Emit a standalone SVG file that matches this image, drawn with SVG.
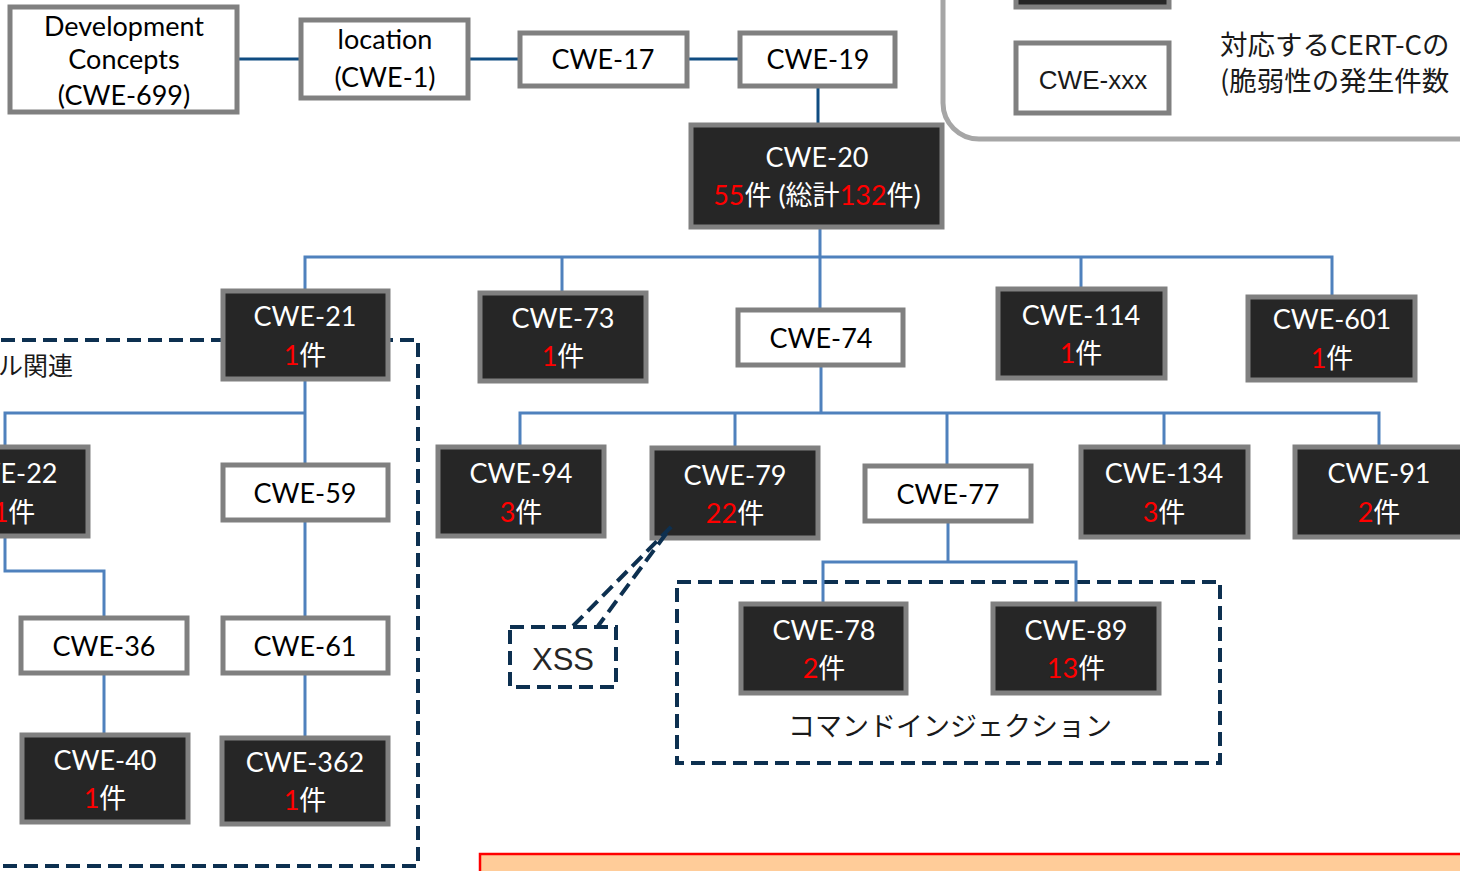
<svg xmlns="http://www.w3.org/2000/svg" width="1460" height="871" viewBox="0 0 1460 871">
<style>
.w{fill:#ffffff;stroke:#808080;stroke-width:5}
.d{fill:#262626;stroke:#808080;stroke-width:5}
.tb{font-family:Lato,"Noto Sans CJK JP",sans-serif;font-size:27px;fill:#000;text-anchor:middle}
.tw{font-family:Lato,"Noto Sans CJK JP",sans-serif;font-size:27px;fill:#fff;text-anchor:middle}
.r{fill:#ff0000}
.dash{fill:none;stroke:#0d3050;stroke-width:4;stroke-dasharray:14 7}
.c1{fill:none;stroke:#0f4c81;stroke-width:3}
.c2{fill:none;stroke:#4f81bd;stroke-width:3}
</style>
<rect width="1460" height="871" fill="#ffffff"/>
<g id="legend">
<rect x="943" y="-60" width="620" height="199" rx="36" fill="#ffffff" stroke="#a6a6a6" stroke-width="5"/>
<rect class="d" x="1016" y="-30" width="153" height="37"/>
<rect class="w" x="1016" y="43" width="153" height="70"/>
<text x="1093" y="89" font-family="'Liberation Sans',sans-serif" font-size="26" fill="#1a1a1a" text-anchor="middle">CWE-xxx</text>
<text x="1220" y="55" font-family="'Noto Sans CJK JP',sans-serif" font-size="27.5" fill="#1a1a1a">対応するCERT-Cの</text>
<text x="1220" y="91" font-family="'Noto Sans CJK JP',sans-serif" font-size="27.5" fill="#1a1a1a">(脆弱性の発生件数</text>
</g>
<g id="bottom-box">
<rect x="480" y="854" width="1000" height="40" fill="#ffcc99" stroke="#ff0000" stroke-width="2.5"/>
</g>
<g id="file-group">
<rect class="dash" x="-20" y="340" width="438" height="526"/>
<text x="-2" y="375" font-family="'Noto Sans CJK JP',sans-serif" font-size="25" fill="#1a1a1a">ル関連</text>
</g>
<g id="cmd-group">
<rect class="dash" x="677" y="582" width="543" height="181"/>
<text x="950" y="736" font-family="'Noto Sans CJK JP',sans-serif" font-size="27" fill="#1a1a1a" text-anchor="middle">コマンドインジェクション</text>
</g>
<g id="connectors">
<path class="c1" d="M238 59H300M469 59H519M688 59H739M818 86V124"/>
<path class="c2" d="M820 228V257M305 290V257H1332V296M562 257V292M820 257V309M1081 257V288"/>
<path class="c2" d="M821 366V413M520 446V413H1379V446M735 413V447M947 413V465M1164 413V446"/>
<path class="c2" d="M948 522V562M823 603V562H1076V603"/>
<path class="c2" d="M305 380V413M5 446V413H305V464M305 521V617M5 537V571H104V617M104 674V734M305 674V737"/>
</g>
<g id="cwe699"><rect class="w" x="10" y="7" width="227" height="105"/>
<text class="tb" x="124" y="36" font-size="24">Development</text>
<text class="tb" x="124" y="69" font-size="24">Concepts</text>
<text class="tb" x="124" y="105">(CWE-699)</text></g>
<g id="cwe1"><rect class="w" x="301" y="20" width="167" height="78"/>
<text class="tb" x="385" y="49" font-size="24">location</text>
<text class="tb" x="385" y="87">(CWE-1)</text></g>
<g id="cwe17"><rect class="w" x="520" y="33" width="167" height="53"/>
<text class="tb" x="603" y="69">CWE-17</text></g>
<g id="cwe19"><rect class="w" x="740" y="33" width="155" height="53"/>
<text class="tb" x="818" y="69">CWE-19</text></g>
<g id="cwe20"><rect class="d" x="691" y="125" width="251" height="102"/>
<text class="tw" x="817" y="167">CWE-20</text>
<text class="tw" x="817" y="205"><tspan class="r">55</tspan>件 (総計<tspan class="r">132</tspan>件)</text></g>
<g id="cwe21"><rect class="d" x="223" y="291" width="165" height="88"/>
<text class="tw" x="305" y="326">CWE-21</text>
<text class="tw" x="305" y="365"><tspan class="r">1</tspan>件</text></g>
<g id="cwe73"><rect class="d" x="480" y="293" width="166" height="88"/>
<text class="tw" x="563" y="328">CWE-73</text>
<text class="tw" x="563" y="366"><tspan class="r">1</tspan>件</text></g>
<g id="cwe74"><rect class="w" x="738" y="310" width="165" height="55"/>
<text class="tb" x="821" y="348">CWE-74</text></g>
<g id="cwe114"><rect class="d" x="998" y="289" width="167" height="89"/>
<text class="tw" x="1081" y="325">CWE-114</text>
<text class="tw" x="1081" y="363"><tspan class="r">1</tspan>件</text></g>
<g id="cwe601"><rect class="d" x="1248" y="297" width="167" height="83"/>
<text class="tw" x="1332" y="329">CWE-601</text>
<text class="tw" x="1332" y="368"><tspan class="r">1</tspan>件</text></g>
<g id="cwe22"><rect class="d" x="-80" y="447" width="168" height="89"/>
<text class="tw" x="6" y="483">CWE-22</text>
<text class="tw" x="14" y="522"><tspan class="r">1</tspan>件</text></g>
<g id="cwe59"><rect class="w" x="223" y="465" width="165" height="55"/>
<text class="tb" x="305" y="503">CWE-59</text></g>
<g id="cwe36"><rect class="w" x="21" y="618" width="166" height="55"/>
<text class="tb" x="104" y="656">CWE-36</text></g>
<g id="cwe61"><rect class="w" x="223" y="618" width="165" height="55"/>
<text class="tb" x="305" y="656">CWE-61</text></g>
<g id="cwe40"><rect class="d" x="22" y="735" width="166" height="87"/>
<text class="tw" x="105" y="770">CWE-40</text>
<text class="tw" x="105" y="808"><tspan class="r">1</tspan>件</text></g>
<g id="cwe362"><rect class="d" x="222" y="738" width="166" height="86"/>
<text class="tw" x="305" y="772">CWE-362</text>
<text class="tw" x="305" y="810"><tspan class="r">1</tspan>件</text></g>
<g id="cwe94"><rect class="d" x="438" y="447" width="166" height="89"/>
<text class="tw" x="521" y="483">CWE-94</text>
<text class="tw" x="521" y="522"><tspan class="r">3</tspan>件</text></g>
<g id="cwe79"><rect class="d" x="652" y="448" width="166" height="90"/>
<text class="tw" x="735" y="485">CWE-79</text>
<text class="tw" x="735" y="523"><tspan class="r">22</tspan>件</text></g>
<g id="cwe77"><rect class="w" x="865" y="466" width="166" height="55"/>
<text class="tb" x="948" y="504">CWE-77</text></g>
<g id="cwe134"><rect class="d" x="1081" y="447" width="167" height="90"/>
<text class="tw" x="1164" y="483">CWE-134</text>
<text class="tw" x="1164" y="522"><tspan class="r">3</tspan>件</text></g>
<g id="cwe91"><rect class="d" x="1295" y="447" width="170" height="90"/>
<text class="tw" x="1379" y="483">CWE-91</text>
<text class="tw" x="1379" y="522"><tspan class="r">2</tspan>件</text></g>
<g id="cwe78"><rect class="d" x="741" y="604" width="165" height="89"/>
<text class="tw" x="824" y="640">CWE-78</text>
<text class="tw" x="824" y="678"><tspan class="r">2</tspan>件</text></g>
<g id="cwe89"><rect class="d" x="993" y="604" width="166" height="89"/>
<text class="tw" x="1076" y="640">CWE-89</text>
<text class="tw" x="1076" y="678"><tspan class="r">13</tspan>件</text></g>
<g id="xss">
<rect class="dash" x="510" y="627" width="106" height="60"/>
<path class="dash" d="M573 626L671 527L598 626"/>
<text x="563" y="670" font-family="'Liberation Sans',sans-serif" font-size="31" fill="#262626" text-anchor="middle">XSS</text>
</g>
</svg>
